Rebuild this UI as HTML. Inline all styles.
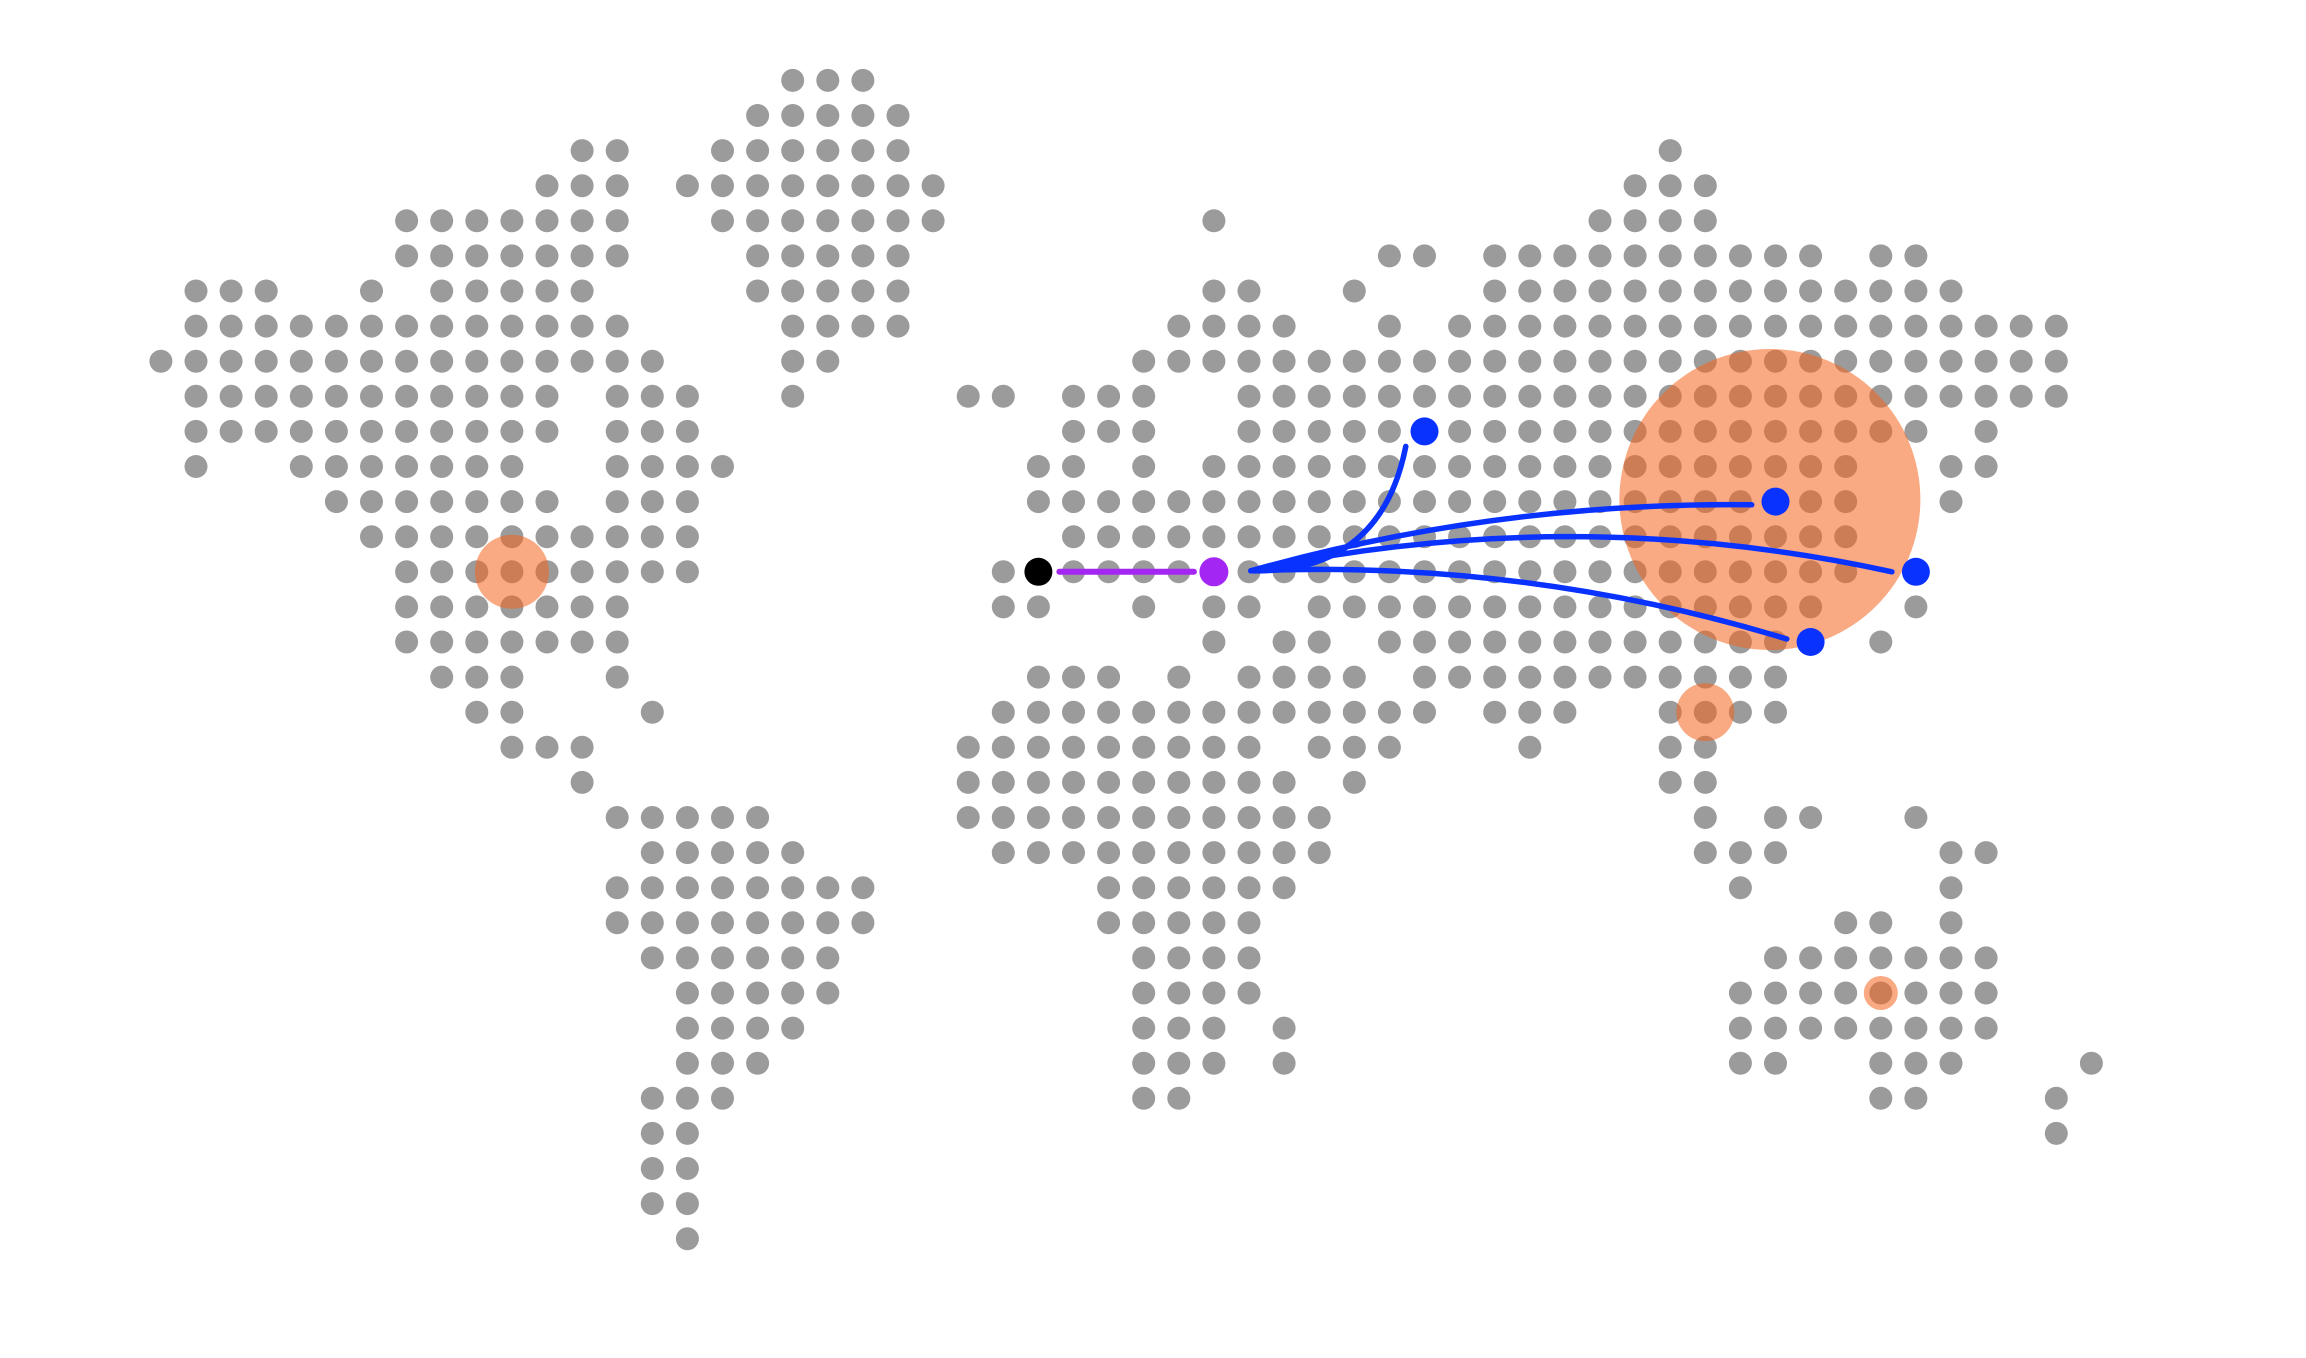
<!DOCTYPE html>
<html><head><meta charset="utf-8"><style>
html,body{margin:0;padding:0;background:#fff;}
svg{display:block;}
</style></head><body>
<svg id="map" width="2306" height="1358" viewBox="0 0 2306 1358" xmlns="http://www.w3.org/2000/svg">
<g id="land"></g>
<g id="bubbles"></g>
<g id="routes"></g>
<g id="points"></g>
</svg>
<script>
// land dot rows: each row lists [startCol,endCol] ranges
const landRows = [
[[18,20]],
[[17,21]],
[[12,13],[16,21],[43,43]],
[[11,13],[15,22],[42,44]],
[[7,13],[16,22],[30,30],[41,44]],
[[7,13],[17,21],[35,36],[38,47],[49,50]],
[[1,3],[6,6],[8,12],[17,21],[30,31],[34,34],[38,51]],
[[1,13],[18,21],[29,32],[35,35],[37,54]],
[[0,14],[18,19],[28,54]],
[[1,11],[13,15],[18,18],[23,24],[26,28],[31,54]],
[[1,11],[13,15],[26,28],[31,50],[52,52]],
[[1,1],[4,10],[13,16],[25,26],[28,28],[30,48],[51,52]],
[[5,11],[13,15],[25,48],[51,51]],
[[6,15],[26,48]],
[[7,15],[24,48]],
[[7,13],[24,25],[28,28],[30,31],[33,47],[50,50]],
[[7,13],[30,30],[32,33],[35,46],[49,49]],
[[8,10],[13,13],[25,27],[29,29],[31,34],[36,46]],
[[9,10],[14,14],[24,36],[38,40],[43,46]],
[[10,12],[23,31],[33,35],[39,39],[43,44]],
[[12,12],[23,32],[34,34],[43,44]],
[[13,17],[23,33],[44,44],[46,47],[50,50]],
[[14,18],[24,33],[44,46],[51,52]],
[[13,20],[27,32],[45,45],[51,51]],
[[13,20],[27,31],[48,49],[51,51]],
[[14,19],[28,31],[46,52]],
[[15,19],[28,31],[45,52]],
[[15,18],[28,30],[32,32],[45,52]],
[[15,17],[28,30],[32,32],[45,46],[49,51],[55,55]],
[[14,16],[28,29],[49,50],[54,54]],
[[14,15],[54,54]],
[[14,15]],
[[14,15]],
[[15,15]]
];
// bubbles (grid col, grid row, radius in px)
const bubbleCols = [10, 45.84, 44, 49];
const bubbleRows = [14, 11.94, 18, 26];
const bubbleRadii = [37, 150.5, 29, 17];
// route data
const sourceCol = 25, sourceRow = 14;
const hubCol = 30, hubRow = 14;
const destCols = [36, 46, 50, 47];
const destRows = [10, 12, 14, 16];
const destBend = [-0.42, 0.072, 0.108, 0.085];

const NS = "http://www.w3.org/2000/svg";
const x = c => 160.9 + 35.1 * c;
const y = r => 80.4 + 35.1 * r;
function mk(tag, attrs, parent){
  const e = document.createElementNS(NS, tag);
  for (const k in attrs) e.setAttribute(k, attrs[k]);
  parent.appendChild(e); return e;
}
const land = document.getElementById('land');
landRows.forEach((ranges, r) => {
  ranges.forEach(([a,b]) => {
    for (let c = a; c <= b; c++) {
      const d = mk('circle', {cx: x(c), cy: y(r), r: 11.5, fill: '#9b9b9b'}, land);
      
      
    }
  });
});
const bub = document.getElementById('bubbles');
bubbleCols.forEach((c, i) => {
  const b = mk('circle', {cx: x(c), cy: y(bubbleRows[i]), r: bubbleRadii[i], fill: 'rgb(246,100,28)', 'fill-opacity': 0.55}, bub);
  
  
});
const routes = document.getElementById('routes');
const pts = document.getElementById('points');
// source -> hub line
const sx = x(sourceCol), sy = y(sourceRow), hx = x(hubCol), hy = y(hubRow);
const pl = mk('line', {x1: sx + 21, y1: sy, x2: hx - 20, y2: hy, stroke: '#a326f2', 'stroke-width': 6, 'stroke-linecap': 'round'}, routes);


// hub -> destinations
const S = [hx + 37, hy - 1];
destCols.forEach((c, i) => {
  const dx = x(c), dy = y(destRows[i]);
  const vx = dx - S[0], vy = dy - S[1];
  const L0 = Math.hypot(vx, vy);
  const E = [dx - vx / L0 * 24, dy - vy / L0 * 24];
  const ex = E[0] - S[0], ey = E[1] - S[1];
  const L = Math.hypot(ex, ey);
  const px = ey / L, py = -ex / L;
  const k = destBend[i] * L;
  const C = [(S[0] + E[0]) / 2 + px * k, (S[1] + E[1]) / 2 + py * k];
  const p = mk('path', {d: `M${S[0]},${S[1]} Q${C[0]},${C[1]} ${E[0]},${E[1]}`, fill: 'none', stroke: '#0a32ff', 'stroke-width': 5.5, 'stroke-linecap': 'round'}, routes);
  
  
  const d = mk('circle', {cx: dx, cy: dy, r: 14, fill: '#0a32ff'}, pts);
  
  
});
const src = mk('circle', {cx: sx, cy: sy, r: 14, fill: '#000'}, pts);


const hub = mk('circle', {cx: hx, cy: hy, r: 14.5, fill: '#a326f2'}, pts);


</script>
</body></html>
